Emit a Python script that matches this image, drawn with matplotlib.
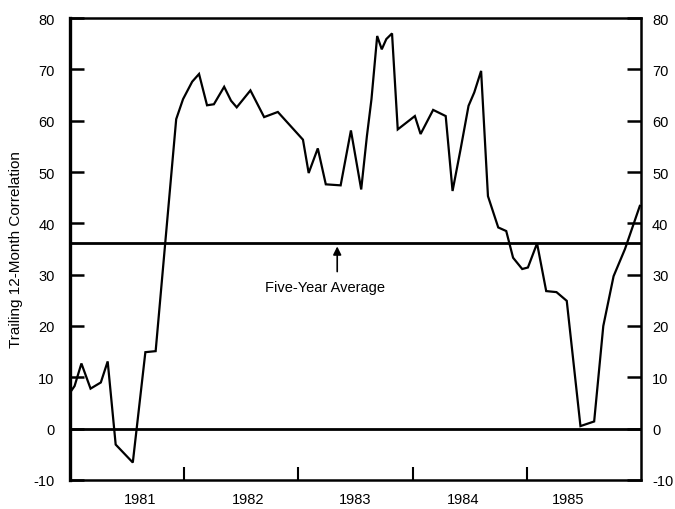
import matplotlib
matplotlib.use("Agg")
import matplotlib.pyplot as plt

# Data (x in decimal years, y = trailing 12-month correlation)
dates = [1981.015, 1981.04, 1981.10, 1981.18, 1981.27, 1981.33, 1981.40, 1981.55,
         1981.66, 1981.75, 1981.93, 1981.99, 1982.07, 1982.13, 1982.20, 1982.26,
         1982.35, 1982.41, 1982.46, 1982.58, 1982.70, 1982.82, 1983.04, 1983.09,
         1983.17, 1983.24, 1983.37, 1983.46, 1983.55, 1983.60, 1983.64, 1983.69,
         1983.73, 1983.77, 1983.82, 1983.87, 1984.02, 1984.07, 1984.18, 1984.29,
         1984.35, 1984.42, 1984.49, 1984.54, 1984.60, 1984.66, 1984.75, 1984.82,
         1984.88, 1984.96, 1985.01, 1985.09, 1985.17, 1985.26, 1985.35, 1985.47,
         1985.59, 1985.67, 1985.76, 1985.86, 1985.99]
correlation = [7.5, 8.3, 12.7, 7.8, 9.0, 13.1, -3.1, -6.6,
               14.9, 15.1, 60.3, 64.2, 67.6, 69.1, 63.0, 63.2,
               66.6, 63.9, 62.6, 65.9, 60.7, 61.7, 56.3, 49.8,
               54.6, 47.6, 47.4, 58.1, 46.6, 57.0, 64.2, 76.5,
               73.9, 75.9, 77.0, 58.3, 60.9, 57.4, 62.1, 60.9,
               46.3, 54.4, 62.9, 65.5, 69.7, 45.3, 39.2, 38.5,
               33.3, 31.1, 31.4, 36.1, 26.8, 26.6, 24.9, 0.5,
               1.4, 20.0, 29.7, 35.0, 43.4]
five_year_average = 36.2
year_labels = ["1981", "1982", "1983", "1984", "1985"]
year_label_pos = [1981.61, 1982.56, 1983.50, 1984.44, 1985.36]
year_ticks = [1982, 1983, 1984, 1985]
y_ticks = [-10, 0, 10, 20, 30, 40, 50, 60, 70, 80]
y_label = "Trailing 12-Month Correlation"
avg_label = "Five-Year Average"

plt.rcParams['font.family'] = ['Liberation Sans', 'DejaVu Sans']

fig = plt.figure(figsize=(6.75, 5.10), dpi=100)
ax = fig.add_axes([0.1037, 0.0569, 0.8459, 0.9058])

ax.plot(dates, correlation, color='black', lw=1.6, solid_joinstyle='miter')
ax.axhline(five_year_average, color='black', lw=2.0)
ax.axhline(0, color='black', lw=2.0)

ax.set_xlim(1981, 1986)
ax.set_ylim(-10, 80)

for s in ax.spines.values():
    s.set_linewidth(1.8)
ax.spines['left'].set_linewidth(2.4)

ax.set_yticks(y_ticks)
ax.set_yticklabels([str(v) for v in y_ticks])
ax.tick_params(axis='y', which='major', direction='in', length=10, width=1.8,
               left=True, right=False, labelleft=True, labelright=False,
               labelsize=10.5, pad=11)

# right-hand scale
axr = ax.twinx()
axr.set_ylim(-10, 80)
axr.set_yticks(y_ticks)
axr.set_yticklabels([str(v) for v in y_ticks])
axr.tick_params(axis='y', which='major', direction='in', length=10, width=1.8,
                labelsize=10.5, pad=8)
for s in axr.spines.values():
    s.set_visible(False)

ax.set_xticks(year_ticks)
ax.set_xticklabels([])
ax.tick_params(axis='x', which='major', direction='in', length=9.5, width=1.5,
               top=False, bottom=True)
ax.set_xticks(year_label_pos, minor=True)
ax.set_xticklabels(year_labels, minor=True)
ax.tick_params(axis='x', which='minor', length=0, labelsize=10.5, pad=9)

ax.set_ylabel(y_label, fontsize=11)
ax.yaxis.set_label_coords(-0.083, 0.5)

ax.annotate('', xy=(1983.34, 35.5), xytext=(1983.34, 30.6),
            arrowprops=dict(arrowstyle='-|>', color='black', lw=1.2,
                            mutation_scale=12, shrinkA=0, shrinkB=0))
ax.text(1983.23, 27.6, avg_label, ha='center', va='center', fontsize=10.5)

fig.savefig('out.png', dpi=100)
